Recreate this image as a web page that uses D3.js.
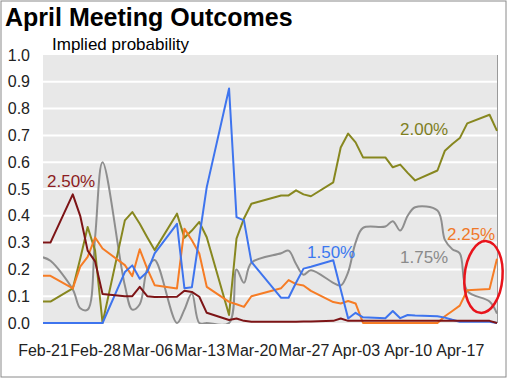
<!DOCTYPE html>
<html>
<head>
<meta charset="utf-8">
<script src="https://cdn.jsdelivr.net/npm/d3@7"></script>
<style>
  html, body { margin: 0; padding: 0; background: #fff; }
  svg { display: block; font-family: "Liberation Sans", Arial, sans-serif; }
</style>
</head>
<body>
<svg id="chart" width="510" height="378"></svg>
<script>
// ---------- data ----------
const dates = [
  "2008-02-21","2008-02-22","2008-02-25","2008-02-26","2008-02-27","2008-02-28","2008-02-29",
  "2008-03-03","2008-03-04","2008-03-05","2008-03-06","2008-03-07","2008-03-10","2008-03-11",
  "2008-03-12","2008-03-13","2008-03-14","2008-03-17","2008-03-18","2008-03-19","2008-03-20",
  "2008-03-24","2008-03-25","2008-03-26","2008-03-27","2008-03-28","2008-03-31",
  "2008-04-01","2008-04-02","2008-04-03","2008-04-04","2008-04-07","2008-04-08","2008-04-09",
  "2008-04-10","2008-04-11","2008-04-14","2008-04-15","2008-04-16","2008-04-17","2008-04-18",
  "2008-04-21","2008-04-22"
];
const p150 = [0,0,0,0,0,0,0, 0.19,0.215,0.165,0.19,0.26,0.37,0.13, 0.133,0.32,0.507,0.875,0.395,0.383,0.228,
  0.094,0.094,0.15,0.203,0.21,0.234, 0.125,0.017,0.038,0.021,0.018,0.045,0.018, 0.03,0.028,0.025,0.02,0.012,0.005,0.005, 0.005,0.0];
const p175 = [0.245,0.232,0.125,0.055,0.05,0.32,0.60, 0.14,0.05,0.07,0.20,0.235,0.0,0.05, 0.11,0.0,0.0,0.0,0.20,0.15,0.225,
  0.26,0.27,0.22,0.18,0.197,0.15, 0.14,0.19,0.30,0.355,0.36,0.38,0.345, 0.40,0.432,0.42,0.31,0.275,0.26,0.12, 0.08,0.035];
const p200 = [0.08,0.08,0.129,0.24,0.358,0.27,0.0, 0.383,0.414,0.37,0.32,0.272,0.408,0.318, 0.345,0.377,0.32,0.03,0.315,0.39,0.445,
  0.476,0.476,0.495,0.48,0.473,0.525, 0.655,0.707,0.674,0.618,0.618,0.581,0.591, 0.56,0.532,0.569,0.643,0.668,0.69,0.745, 0.777,0.717];
const p225 = [0.176,0.176,0.129,0.21,0.247,0.319,0.278, 0.216,0.175,0.275,0.203,0.141,0.129,0.352, 0.309,0.259,0.135,0.079,0.07,0.06,0.10,
  0.13,0.16,0.145,0.14,0.12,0.078, 0.073,0.082,0.073,0.0,0.0,0.0,0.0, 0.0,0.0,0.0,0.025,0.045,0.065,0.122, 0.127,0.24];
const p250 = [0.30,0.30,0.48,0.40,0.27,0.23,0.108, 0.10,0.10,0.135,0.10,0.097,0.098,0.12, 0.116,0.098,0.038,0.011,0.017,0.008,0.005,
  0.005,0.005,0.005,0.006,0.006,0.008, 0.017,0.008,0.008,0.008,0.008,0.008,0.008, 0.008,0.008,0.008,0.008,0.008,0.008,0.008, 0.008,0.0];
const seriesNames = ["1.50%","1.75%","2.00%","2.25%","2.50%"];
const xTickLabels = ["Feb-21","Feb-28","Mar-06","Mar-13","Mar-20","Mar-27","Apr-03","Apr-10","Apr-17"];
const yTicks = [0,0.1,0.2,0.3,0.4,0.5,0.6,0.7,0.8,0.9,1.0];

// ---------- layout ----------
const svg = d3.select("#chart");
const W = 510, H = 378;
const plot = {left: 43, right: 497, top: 55, bottom: 323};
const font = '"Liberation Sans", Arial, sans-serif';

const parse = d3.timeParse("%Y-%m-%d");
const parseTick = d3.timeParse("%Y-%b-%d");
const xDates = dates.map(parse);
const x = d3.scaleTime().domain([xDates[0], xDates[xDates.length-1]]).range([plot.left, plot.right]);
const y = d3.scaleLinear().domain([0, 1]).range([plot.bottom, plot.top]);

// outer frame
svg.append("rect").attr("x",1).attr("y",1).attr("width",505).attr("height",376)
  .attr("fill","#fff").attr("stroke","#8a8a8a").attr("stroke-width",1);

// plot background
svg.append("rect").attr("x",plot.left).attr("y",plot.top)
  .attr("width",plot.right-plot.left).attr("height",plot.bottom-plot.top)
  .attr("fill","#e8e8e8");

// gridlines
svg.append("g").selectAll("line").data(yTicks.filter(d => d > 0 && d < 1)).join("line")
  .attr("x1",plot.left).attr("x2",plot.right)
  .attr("y1",d => y(d)).attr("y2",d => y(d))
  .attr("stroke","#fff").attr("stroke-width",2);

// right frame line
svg.append("line").attr("x1",plot.right+0.5).attr("x2",plot.right+0.5)
  .attr("y1",plot.top).attr("y2",plot.bottom).attr("stroke","#9a9a9a").attr("stroke-width",1);

// axes
const yAxis = d3.axisLeft(y).tickValues(yTicks).tickFormat(d3.format(".1f")).tickSize(0).tickPadding(13);
const gy = svg.append("g").attr("transform",`translate(${plot.left},0)`).call(yAxis);
gy.select(".domain").remove();
gy.selectAll("text").attr("font-family",font).attr("font-size",16).attr("fill","#222");

const tickDates = xTickLabels.map(l => parseTick("2008-" + l));
const xAxis = d3.axisBottom(x).tickValues(tickDates).tickFormat(d3.timeFormat("%b-%d")).tickSize(0).tickPadding(22);
const gx = svg.append("g").attr("transform",`translate(0,${plot.bottom})`).call(xAxis);
gx.select(".domain").remove();
gx.selectAll("text").attr("font-family",font).attr("font-size",16).attr("fill","#222");

// clip
svg.append("clipPath").attr("id","clip").append("rect")
  .attr("x",plot.left).attr("y",plot.top-2).attr("width",plot.right-plot.left+1).attr("height",plot.bottom-plot.top+3);

const colors = {"1.50%":"#3e74ee","1.75%":"#8e8e8e","2.00%":"#87871f","2.25%":"#f67c25","2.50%":"#7d1416"};
const values = {"1.50%":p150,"1.75%":p175,"2.00%":p200,"2.25%":p225,"2.50%":p250};
const curves = {"1.50%":d3.curveLinear,"1.75%":d3.curveCatmullRom.alpha(0.5),"2.00%":d3.curveLinear,"2.25%":d3.curveLinear,"2.50%":d3.curveLinear};

const drawOrder = ["1.75%","2.00%","2.25%","1.50%","2.50%"];
const gLines = svg.append("g").attr("clip-path","url(#clip)");
drawOrder.forEach(name => {
  const line = d3.line().x((d,i) => x(xDates[i])).y(d => y(d)).curve(curves[name]);
  gLines.append("path").datum(values[name])
    .attr("d", line).attr("fill","none")
    .attr("stroke", colors[name]).attr("stroke-width", 2)
    .attr("stroke-linejoin","round");
});

// series labels
const labelColors = {"1.50%":"#3b78f0","1.75%":"#8a8a8a","2.00%":"#7f7f1f","2.25%":"#f07828","2.50%":"#8c1c22"};
const labelPos = {"2.50%":[47,187],"1.50%":[307,258],"2.00%":[400,135],"1.75%":[400,263],"2.25%":[447,240]};
seriesNames.forEach(name => {
  svg.append("text").attr("x",labelPos[name][0]).attr("y",labelPos[name][1])
    .attr("font-family",font).attr("font-size",17).attr("fill",labelColors[name]).text(name);
});

// red highlight ellipse
svg.append("ellipse").attr("cx",0).attr("cy",0).attr("rx",19).attr("ry",36)
  .attr("transform","translate(483.5,277) rotate(5)")
  .attr("fill","none").attr("stroke","#e8141c").attr("stroke-width",2.5);

// titles
svg.append("text").attr("x",5).attr("y",26).attr("font-family",font).attr("font-size",25)
  .attr("font-weight","bold").attr("fill","#000").text("April Meeting Outcomes");
svg.append("text").attr("x",52).attr("y",50).attr("font-family",font).attr("font-size",17)
  .attr("fill","#000").text("Implied probability");
</script>
</body>
</html>
